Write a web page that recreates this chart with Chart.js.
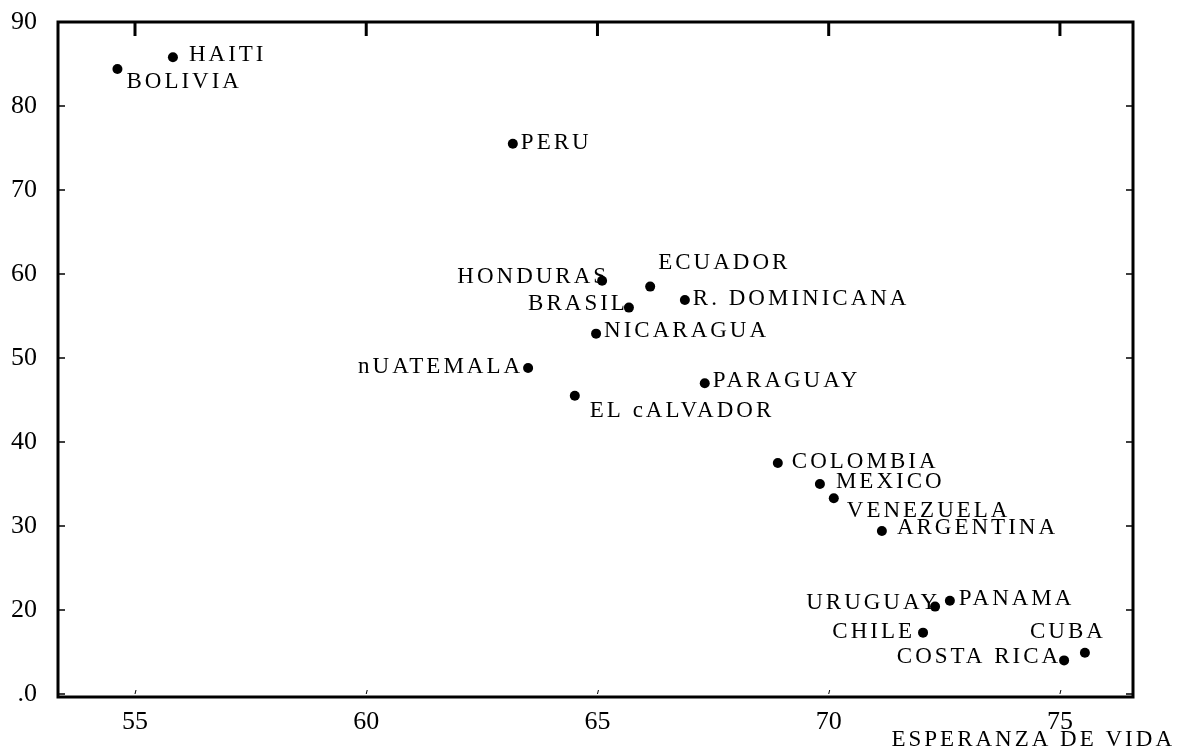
<!DOCTYPE html>
<html>
<head>
<meta charset="utf-8">
<script src="https://cdn.jsdelivr.net/npm/chart.js@4.4.1/dist/chart.umd.min.js"></script>
<style>
  html, body { margin: 0; padding: 0; background: #fff; }
  #wrap { width: 1186px; height: 750px; }
</style>
</head>
<body>
<div id="wrap"><canvas id="canvas"></canvas></div>
<script>
// data
var paises = ['HAITI', 'BOLIVIA', 'PERU', 'HONDURAS', 'ECUADOR', 'BRASIL', 'R. DOMINICANA',
  'NICARAGUA', 'nUATEMALA', 'PARAGUAY', 'EL cALVADOR', 'COLOMBIA', 'MEXICO', 'VENEZUELA',
  'ARGENTINA', 'URUGUAY', 'PANAMA', 'CHILE', 'CUBA', 'COSTA RICA'];
var esperanza = [55.82, 54.62, 63.17, 65.10, 66.14, 65.68, 66.89,
  64.97, 63.50, 67.32, 64.51, 68.90, 69.81, 70.11,
  71.15, 72.30, 72.62, 72.04, 75.54, 75.09];
var valorY = [85.8, 84.4, 75.5, 59.2, 58.5, 56.0, 56.9,
  52.9, 48.8, 47.0, 45.5, 37.5, 35.0, 33.3,
  29.4, 20.4, 21.1, 17.3, 14.9, 14.0];
var xTicks = [55, 60, 65, 70, 75];
var yTicks = [10, 20, 30, 40, 50, 60, 70, 80, 90];
var yTickLabels = ['.0', '20', '30', '40', '50', '60', '70', '80', '90'];
var tituloX = 'ESPERANZA DE VIDA';

// where each name sits next to its dot: [dx, dy, align]
var etiquetaPos = [[16, -2, 'left'], [9, 13, 'left'], [8, -1, 'left'], [7, -4, 'right'],
  [8, -24, 'left'], [-1, -4, 'right'], [8, -1, 'left'], [8, -3, 'left'], [-5, -1, 'right'],
  [8, -2, 'left'], [15, 15, 'left'], [14, -1, 'left'], [16, -2, 'left'], [13, 13, 'left'],
  [15, -3, 'left'], [5, -4, 'right'], [9, -2, 'left'], [-8, -1, 'right'], [21, -21, 'right'],
  [-3, -3, 'right']];

var puntos = [];
for (var i = 0; i < paises.length; i++) {
  puntos.push({x: esperanza[i], y: valorY[i]});
}

var fuente = 'Liberation Serif, Times New Roman, serif';

var marco = {
  id: 'marco',
  afterDraw: function(chart) {
    var ctx = chart.ctx;
    var a = chart.chartArea;
    var sx = chart.scales.x, sy = chart.scales.y;
    ctx.save();
    ctx.strokeStyle = '#000';
    ctx.lineWidth = 3;
    ctx.strokeRect(a.left, a.top, a.right - a.left, a.bottom - a.top);
    // ticks on top edge pointing in
    xTicks.forEach(function(v) {
      var px = sx.getPixelForValue(v);
      ctx.lineWidth = 3;
      ctx.beginPath();
      ctx.moveTo(px, a.top);
      ctx.lineTo(px, a.top + 14);
      ctx.stroke();
      // tiny marks above bottom axis
      ctx.lineWidth = 1;
      ctx.beginPath();
      ctx.moveTo(px + 1, a.bottom - 7);
      ctx.lineTo(px, a.bottom - 3);
      ctx.stroke();
    });
    yTicks.forEach(function(v) {
      var py = sy.getPixelForValue(v);
      ctx.lineWidth = 1.5;
      ctx.beginPath();
      ctx.moveTo(a.left, py);
      ctx.lineTo(a.left + 7, py);
      ctx.moveTo(a.right - 7, py);
      ctx.lineTo(a.right, py);
      ctx.stroke();
    });
    // axis title
    ctx.fillStyle = '#000';
    ctx.font = '23px ' + fuente;
    ctx.letterSpacing = '3px';
    ctx.textAlign = 'right';
    ctx.textBaseline = 'middle';
    ctx.fillText(tituloX, a.right + 42, 740);
    ctx.restore();
  }
};

var etiquetas = {
  id: 'etiquetas',
  afterDatasetsDraw: function(chart) {
    var ctx = chart.ctx;
    var meta = chart.getDatasetMeta(0);
    ctx.save();
    ctx.fillStyle = '#000';
    ctx.font = '23px ' + fuente;
    ctx.letterSpacing = '3px';
    ctx.textBaseline = 'middle';
    for (var i = 0; i < paises.length; i++) {
      var p = meta.data[i];
      var o = etiquetaPos[i];
      ctx.textAlign = o[2];
      ctx.fillText(paises[i], p.x + o[0], p.y + o[1]);
    }
    ctx.restore();
  }
};

var ctx = document.getElementById('canvas').getContext('2d');
var config = {
  type: 'scatter',
  data: {
    datasets: [{
      label: 'paises',
      data: puntos,
      backgroundColor: '#000',
      borderWidth: 0,
      pointRadius: 5,
      pointHoverRadius: 5
    }]
  },
  options: {
    responsive: true,
    maintainAspectRatio: false,
    animation: false,
    events: [],
    layout: { padding: { top: 22, right: 53, left: 0, bottom: 0 } },
    plugins: { legend: { display: false }, tooltip: { enabled: false } },
    scales: {
      x: {
        type: 'linear',
        min: 53.335,
        max: 76.58,
        grid: { display: false, drawTicks: false },
        border: { display: false },
        afterBuildTicks: function(s) { s.ticks = xTicks.map(function(v) { return {value: v}; }); },
        afterFit: function(s) { s.height = 53; s.paddingLeft = 0; s.paddingRight = 0; },
        ticks: {
          color: '#000',
          padding: 10,
          maxRotation: 0,
          autoSkip: false,
          font: { family: fuente, size: 26 },
          callback: function(v) { return String(v); }
        }
      },
      y: {
        type: 'linear',
        min: 9.64,
        max: 90,
        grid: { display: false, drawTicks: false },
        border: { display: false },
        afterBuildTicks: function(s) { s.ticks = yTicks.map(function(v) { return {value: v}; }); },
        afterFit: function(s) { s.width = 58; s.paddingTop = 0; s.paddingBottom = 0; },
        ticks: {
          color: '#000',
          padding: 21,
          autoSkip: false,
          font: { family: fuente, size: 26 },
          callback: function(v) { return yTickLabels[yTicks.indexOf(v)]; }
        }
      }
    }
  },
  plugins: [marco, etiquetas]
};

var chart = new Chart(ctx, config);
</script>
</body>
</html>
